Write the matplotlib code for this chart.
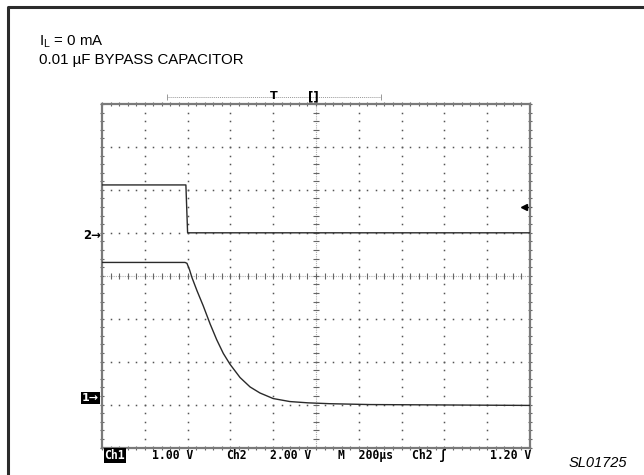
import numpy as np
import matplotlib
matplotlib.use("Agg")
import matplotlib.pyplot as plt

# scope settings
ch1_volts_per_div = 1.0
ch2_volts_per_div = 2.0
time_per_div = 200.0          # us
ch1_position = -2.85          # div, ground marker of channel 1
ch2_position = 1.0            # div, ground marker of channel 2
trigger_level = 1.20          # V on ch2

# channel 2: enable step (us, V)
ch2_time = [0, 392, 400, 2000]
ch2_volts = [2.23, 2.23, 0.0, 0.0]

# channel 1: output voltage decay (us, V)
ch1_time = [0, 388, 397, 409, 421, 444, 473, 505, 536, 567, 598, 645, 692,
            738, 800, 878, 963, 1065, 1252, 1626, 2000]
ch1_volts = [3.16, 3.16, 3.14, 2.99, 2.80, 2.50, 2.15, 1.73, 1.36, 1.04, 0.79,
             0.48, 0.26, 0.12, -0.01, -0.08, -0.11, -0.13, -0.15, -0.16, -0.17]

bottom_labels = ["1.00 V", "Ch2", "2.00 V", "M  200\u00b5s", "Ch2 \u0283", "1.20 V"]
bottom_x = [151.5, 226.5, 269.5, 338.5, 412.5, 490]

W, H = 644, 475
fig = plt.figure(figsize=(W / 100, H / 100), dpi=100)
fig.patch.set_facecolor("white")

# outer border (runs off the right and bottom edges)
fig.add_artist(plt.Line2D([8.3 / W, 8.3 / W, 1.0], [0.0, 1 - 7.3 / H, 1 - 7.3 / H],
                          transform=fig.transFigure, color="#2b2b2b", lw=2.2))

ax = fig.add_axes([102 / W, (H - 447.5) / H, 428 / W, 343.5 / H])
ax.set_xlim(0, 10)
ax.set_ylim(-4, 4)
ax.set_xticks([])
ax.set_yticks([])
for s in ax.spines.values():
    s.set_color("#7a7a7a")
    s.set_linewidth(1.6)

# graticule: dots every 0.2 div on each division line
minor = np.arange(0, 10.01, 0.2)
minor_y = np.arange(-4, 4.01, 0.2)
dot_kw = dict(ls="none", marker="s", ms=1.1, color="#555555", mew=0)
for k in range(1, 10):
    if k != 5:
        ax.plot(np.full_like(minor_y, k), minor_y, **dot_kw)
for k in range(-3, 4):
    if k != 0:
        ax.plot(minor, np.full_like(minor, k), **dot_kw)

# centre crosshair with tick marks
ax.plot([5, 5], [-4, 4], color="#b0b0b0", lw=0.8, ls=(0, (1, 1)))
ax.plot([0, 10], [0, 0], color="#b0b0b0", lw=0.8, ls=(0, (1, 1)))
ax.plot(np.full_like(minor_y, 5), minor_y, ls="none", marker="_", ms=4,
        color="#666666", mew=0.8)
ax.plot(minor, np.zeros_like(minor), ls="none", marker="|", ms=4,
        color="#666666", mew=0.8)

# edge ticks
edge_kw = dict(ls="none", ms=3, color="#666666", mew=0.8, clip_on=False)
ax.plot(minor, np.full_like(minor, 4), marker="|", **edge_kw)
ax.plot(minor, np.full_like(minor, -4), marker="|", **edge_kw)
ax.plot(np.full_like(minor_y, 0), minor_y, marker="_", **edge_kw)
ax.plot(np.full_like(minor_y, 10), minor_y, marker="_", **edge_kw)

# traces
t2 = np.array(ch2_time) / time_per_div
y2 = np.array(ch2_volts) / ch2_volts_per_div + ch2_position
t1 = np.array(ch1_time) / time_per_div
y1 = np.array(ch1_volts) / ch1_volts_per_div + ch1_position
ax.plot(t2, y2, color="#2a2a2a", lw=1.0, zorder=5)
ax.plot(t1, y1, color="#2a2a2a", lw=1.0, zorder=5)

# ground markers
ax.text(-0.02, ch2_position - 0.07, "2\u2192", ha="right", va="center",
        fontsize=8.5, family="DejaVu Sans", fontweight="bold", clip_on=False)
ax.text(-0.07, ch1_position, "1\u2192", ha="right", va="center",
        fontsize=8, family="DejaVu Sans", fontweight="bold", color="white",
        clip_on=False, bbox=dict(boxstyle="square,pad=0.1", fc="black", ec="none"))

# trigger level marker
trig_y = trigger_level / ch2_volts_per_div + ch2_position
ax.plot([9.86, 10], [trig_y, trig_y], color="black", lw=1.0, clip_on=False)
ax.plot([9.86], [trig_y], marker="<", ms=4.5, color="black", clip_on=False)

# record/trigger position bar above the screen
bar_y = 4.17
ax.plot([1.51, 6.53], [bar_y, bar_y], color="#999999", lw=0.7,
        ls=(0, (1, 1)), clip_on=False)
ax.plot([1.51, 6.53], [bar_y, bar_y], ls="none", marker="|", ms=4,
        color="#999999", mew=0.7, clip_on=False)
ax.text(4.02, bar_y + 0.02, "T", ha="center", va="center", fontsize=8,
        family="DejaVu Sans", fontweight="bold", clip_on=False)
ax.text(4.93, bar_y, "[]", ha="center", va="center", fontsize=8.5,
        family="DejaVu Sans", fontweight="bold", clip_on=False)

# annotations
fig.text(39 / W, 1 - 45.5 / H, r"I$_\mathregular{L}$ = 0 mA", fontsize=10.8,
         family="Liberation Sans", va="baseline")
fig.text(39 / W, 1 - 64 / H, "0.01 \u00b5F BYPASS CAPACITOR", fontsize=10.8,
         family="Liberation Sans", va="baseline")

mono = dict(fontsize=8.3, family="DejaVu Sans Mono", fontweight="bold", va="center")
fig.text(104.5 / W, 1 - 455.5 / H, "Ch1", color="white",
         bbox=dict(boxstyle="square,pad=0.08", fc="black", ec="none"), **mono)
for lbl, x in zip(bottom_labels, bottom_x):
    fig.text(x / W, 1 - 455.5 / H, lbl, **mono)

fig.text(569 / W, 1 - 463 / H, "SL01725", fontsize=10.5, style="italic",
         family="Liberation Sans", va="center")

fig.savefig("out.png", dpi=100)
